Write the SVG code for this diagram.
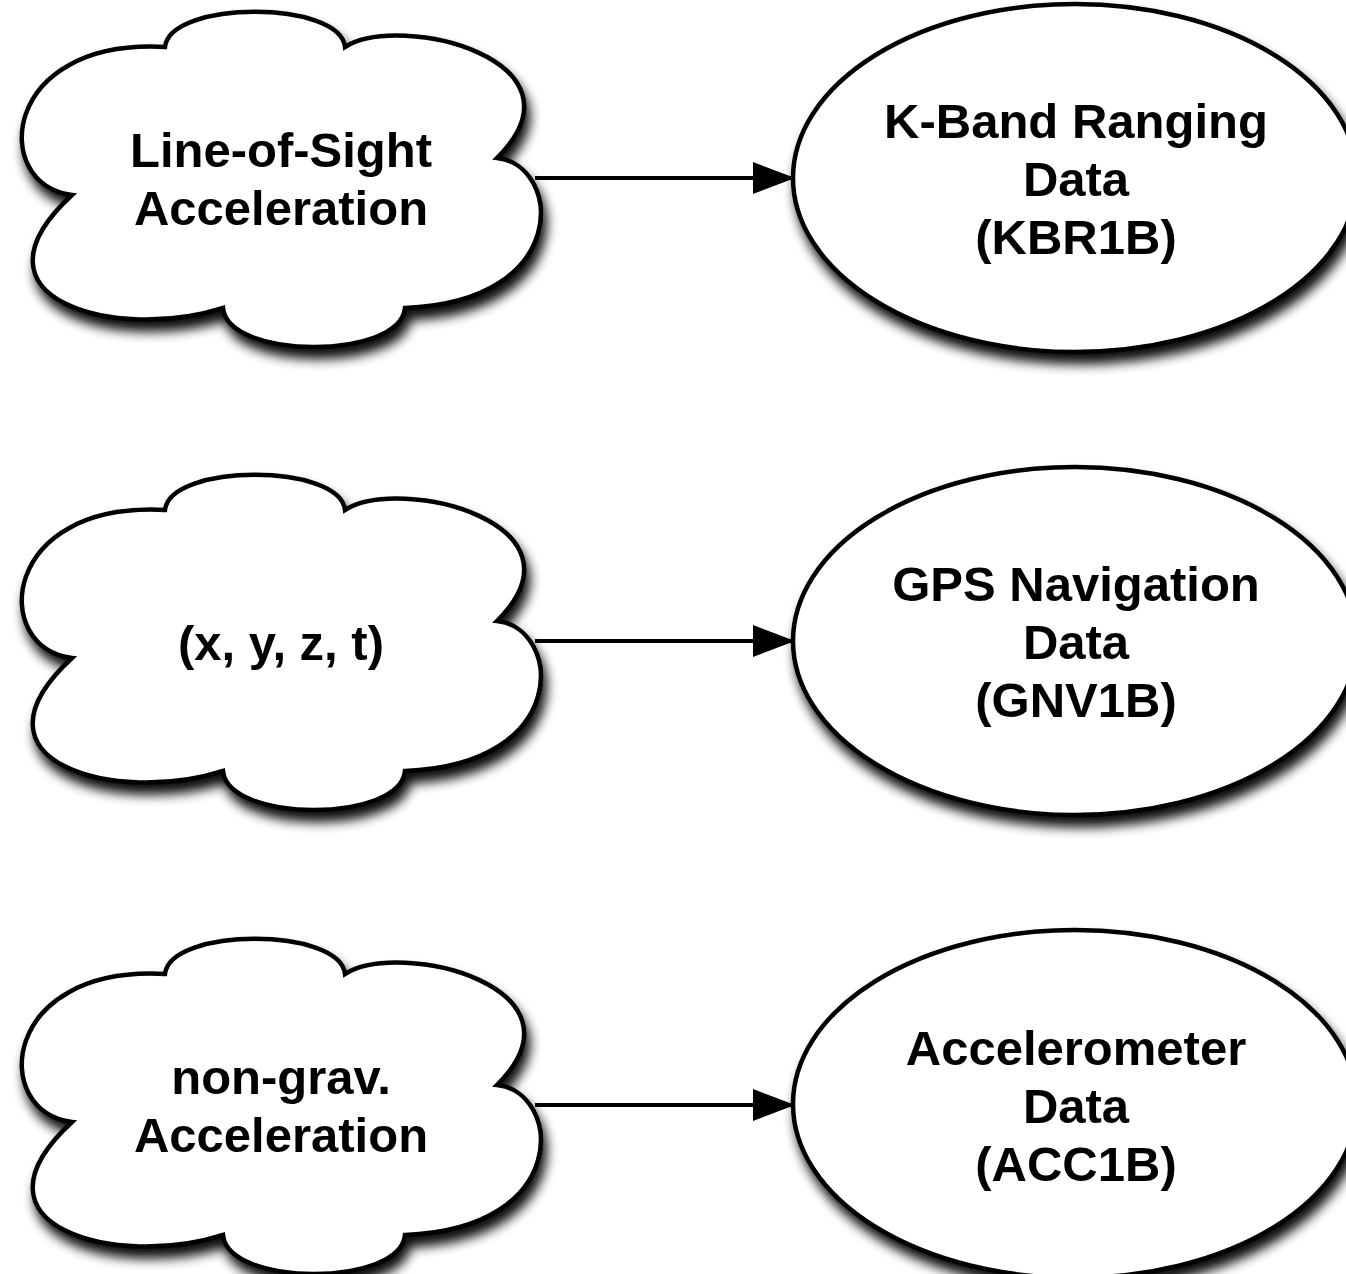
<svg xmlns="http://www.w3.org/2000/svg" width="1346" height="1274" viewBox="0 0 1346 1274">
<style>
.shape{fill:#fff;stroke:#000;stroke-width:4.5;filter:url(#sh)}
.lbl{font-family:"Liberation Sans",Arial,Helvetica,sans-serif;font-weight:bold;font-size:49px;fill:#000;text-anchor:middle}
.edge{stroke:#000;stroke-width:4;fill:none;marker-end:url(#arr)}
</style>
<defs>
<filter id="sh" x="-10%" y="-10%" width="125%" height="135%">
<feGaussianBlur in="SourceAlpha" stdDeviation="6"/>
<feOffset dx="4" dy="10" result="b"/>
<feComponentTransfer><feFuncA type="linear" slope="0.95"/></feComponentTransfer>
<feMerge><feMergeNode/><feMergeNode in="SourceGraphic"/></feMerge>
</filter>
<path id="cloud" d="M72,195 C-10,185 0,38 165,47 C170,0 340,0 345,47 C400,12 595,60 497,158 C562,165 572,302 405,308 C400,360 228,360 223,308 C118,342 -42,300 72,195 Z"/>
<marker id="arr" markerWidth="11" markerHeight="8" refX="10.5" refY="4" orient="auto" markerUnits="strokeWidth">
<path d="M0,0 L10.5,4 L0,8 Z" fill="#000"/>
</marker>
</defs>
<rect width="1346" height="1274" fill="#fff"/>
<g id="connectors">
<line class="edge" x1="535" y1="178" x2="795" y2="178"/>
<line class="edge" x1="535" y1="641" x2="795" y2="641"/>
<line class="edge" x1="535" y1="1105" x2="795" y2="1105"/>
</g>
<g id="cloud1">
<use href="#cloud" class="shape"/>
<text class="lbl" x="281" y="167">Line-of-Sight</text>
<text class="lbl" x="281" y="225">Acceleration</text>
</g>
<g id="cloud2">
<use href="#cloud" class="shape" y="463"/>
<text class="lbl" x="281" y="660">(x, y, z, t)</text>
</g>
<g id="cloud3">
<use href="#cloud" class="shape" y="927"/>
<text class="lbl" x="281" y="1094">non-grav.</text>
<text class="lbl" x="281" y="1152">Acceleration</text>
</g>
<g id="kbr">
<ellipse class="shape" cx="1075" cy="178" rx="282" ry="174"/>
<text class="lbl" x="1076" y="138">K-Band Ranging</text>
<text class="lbl" x="1076" y="196">Data</text>
<text class="lbl" x="1076" y="254">(KBR1B)</text>
</g>
<g id="gnv">
<ellipse class="shape" cx="1075" cy="641" rx="282" ry="174"/>
<text class="lbl" x="1076" y="601">GPS Navigation</text>
<text class="lbl" x="1076" y="659">Data</text>
<text class="lbl" x="1076" y="717">(GNV1B)</text>
</g>
<g id="acc">
<ellipse class="shape" cx="1075" cy="1104" rx="282" ry="174"/>
<text class="lbl" x="1076" y="1065">Accelerometer</text>
<text class="lbl" x="1076" y="1123">Data</text>
<text class="lbl" x="1076" y="1181">(ACC1B)</text>
</g>
</svg>
